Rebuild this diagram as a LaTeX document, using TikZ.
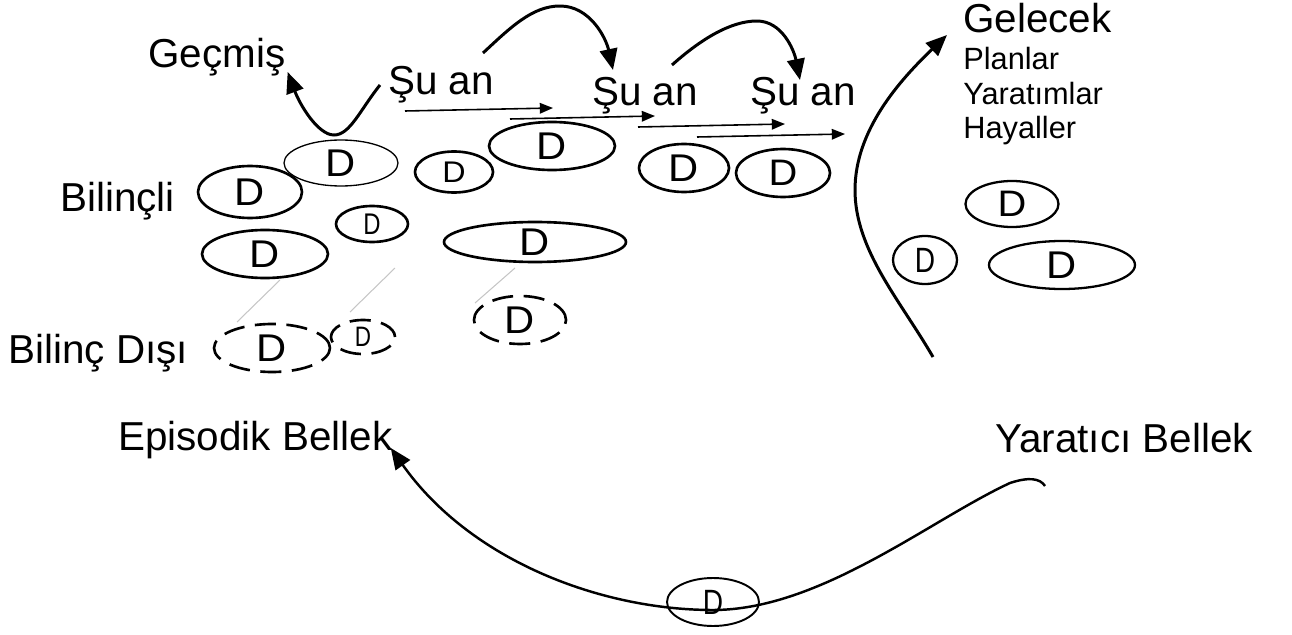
\documentclass[tikz,border=0pt]{standalone}
\usepackage{fontspec}
\setmainfont{Liberation Sans}
\newfontfamily\dfont[FakeStretch=1.08]{Liberation Sans}
\newfontfamily\nfont[FakeStretch=0.8]{Liberation Sans}
\usetikzlibrary{shapes.geometric,arrows.meta}

\begin{document}
\begin{tikzpicture}[x=0.02cm, y=-0.02cm,
  lbl/.style={inner sep=0pt, anchor=base west, font=\fontsize{23}{26}\selectfont},
  sub/.style={inner sep=0pt, anchor=base west, font=\fontsize{17.5}{20}\selectfont},
  mem/.style 2 args={ellipse, draw, line width=1.5pt, inner sep=0pt,
    minimum width=#1*0.02cm, minimum height=#2*0.02cm},
  dk/.style={font=\dfont\fontsize{#1}{#1}\selectfont},
  nk/.style={font=\nfont\fontsize{#1}{#1}\selectfont},
  lost/.style={dash pattern=on 12pt off 6pt},
  bigarr/.style={line width=1.7pt, -{Triangle[length=12pt, width=10pt]}},
  timearr/.style={line width=0.9pt, -{Triangle[length=7.5pt, width=6pt]}},
  trace/.style={gray!45, line width=0.6pt}]
  \useasboundingbox (0,0) rectangle (1292,635);

  % labels
  \node[lbl] (gecmis) at (148,68) {Geçmiş};
  \node[lbl] (su1) at (388,95) {Şu an};
  \node[lbl] (su2) at (592,106) {Şu an};
  \node[lbl] (su3) at (750,106) {Şu an};
  \node[lbl] (gelecek) at (963,33) {Gelecek};
  \node[sub] (planlar) at (963,70) {Planlar};
  \node[sub] (yaratim) at (963,105) {Yaratımlar};
  \node[sub] (hayal) at (963,138) {Hayaller};
  \node[lbl] (bilincli) at (60,212) {Bilinçli};
  \node[lbl] (bdisi) at (8,363) {Bilinç Dışı};
  \node[lbl] (episodik) at (118,450) {Episodik Bellek};
  \node[lbl] (yaratici) at (995,452) {Yaratıcı Bellek};

  % conscious memories
  \node[mem={104}{52}, dk=22] (d1) at (250,192) {D};
  \node[mem={114}{46}, dk=22, line width=0.75pt] (d2) at (341,163) {D};
  \node[mem={78}{41}, dk=17] (d3) at (454,172) {D};
  \node[mem={126}{48}, dk=22] (d4) at (552,146) {D};
  \node[mem={90}{48}, dk=22] (d5) at (684,168) {D};
  \node[mem={94}{48}, dk=21] (d6) at (783,173) {D};
  \node[mem={126}{48}, dk=22] (d7) at (265,254) {D};
  \node[mem={72}{36}, nk=17] (d8) at (372,224) {D};
  \node[mem={182}{40}, dk=22] (d9) at (535,242) {D};

  % future
  \node[mem={93}{46}, dk=21, line width=1.3pt] (d10) at (1012,204) {D};
  \node[mem={64}{48}, nk=20, line width=1.3pt] (d11) at (925,260) {D};
  \node[mem={146}{48}, dk=22, line width=1.3pt] (d12) at (1062,265) {D};
  \node[mem={92}{48}, nk=20, line width=1.1pt] (d13) at (713,602) {D};

  % unconscious
  \node[mem={116}{48}, dk=22, lost] (u1) at (272,348) {D};
  \node[mem={64}{34}, nk=16, lost] (u2) at (363,337) {D};
  \node[mem={92}{48}, dk=22, lost] (u3) at (520,320) {D};

  \draw[trace] ([shift={(15,26)}]d7.center) -- ([shift={(-35,-26)}]u1.center);
  \draw[trace] ([shift={(23,44)}]d8.center) -- ([shift={(-13,-25)}]u2.center);
  \draw[trace] ([shift={(-20,26)}]d9.center) -- ([shift={(-45,-17)}]u3.center);

  % time line
  \foreach \i/\ax/\ay/\bx/\by in {1/405/111/553/108, 2/510/119/655/116,
                                  3/638/127/785/124, 4/697/137/845/134} {
    \coordinate (ts\i) at (\ax,\ay);
    \coordinate (te\i) at (\bx,\by);
    \draw[timearr] (ts\i) -- (te\i);
  }

  % jumps
  \draw[bigarr] ([shift={(-8,-10)}]su1.base west) .. controls (360,110) and (350,135) .. (334,135)
    .. controls (318,135) and (300,105) .. ([shift={(2,4)}]gecmis.base east);
  \draw[bigarr] ([shift={(95,-42)}]su1.base west) .. controls (510,28) and (532,6) .. (560,6)
    .. controls (590,6) and (606,38) .. ([shift={(21,-36)}]su2.base west);
  \draw[bigarr] ([shift={(80,-41)}]su2.base west) .. controls (700,40) and (730,21) .. (757,21)
    .. controls (782,21) and (794,50) .. ([shift={(50,-26)}]su3.base west);

  \coordinate (g0) at (933,357);
  \draw[bigarr] (g0) .. controls (900,300) and (855,250) .. (855,190)
    .. controls (855,130) and (900,80) .. ([shift={(-16,2)}]gelecek.base west);

  \draw[bigarr, line width=1.4pt] ([shift={(50,34)}]yaratici.base west)
    .. controls (1040,478) and (1028,477) .. (1010,483)
    .. controls (930,520) and (820,610) .. (713,610)
    .. controls (600,610) and (470,560) .. ([shift={(-2,-2)}]episodik.base east);
\end{tikzpicture}
\end{document}
